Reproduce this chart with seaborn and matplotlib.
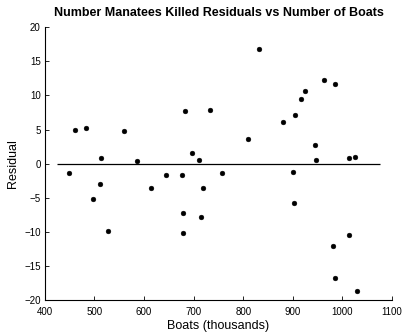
import pandas as pd
import seaborn as sns
import matplotlib.pyplot as plt

# boats (thousands) and residuals
boats = [460, 482, 514, 559, 585, 682, 733, 697, 711,
         832, 963, 984, 924, 917, 904, 881, 810, 945, 947, 1013, 1025,
         448, 512, 497, 527, 614, 645, 676, 679, 679, 719, 715, 757,
         900, 902, 1013, 980, 985, 1029]
residuals = [5.0, 5.2, 0.9, 4.8, 0.4, 7.7, 7.9, 1.5, 0.6,
             16.8, 12.2, 11.7, 10.6, 9.4, 7.2, 6.1, 3.6, 2.8, 0.6, 0.8, 1.0,
             -1.3, -3.0, -5.2, -9.9, -3.5, -1.7, -1.7, -7.3, -10.1, -3.5, -7.8, -1.3,
             -1.2, -5.7, -10.4, -12.1, -16.8, -18.7]

x_ticks = list(range(400, 1101, 100))
y_ticks = list(range(-20, 21, 5))

df = pd.DataFrame({"boats": boats, "residual": residuals})

sns.set_style("ticks", {"text.color": "black", "axes.labelcolor": "black",
                        "xtick.color": "black", "ytick.color": "black",
                        "axes.edgecolor": "black"})
plt.rcParams["font.family"] = ["Liberation Sans", "DejaVu Sans"]

fig = plt.figure(figsize=(4.08, 3.35), dpi=100)
ax = fig.add_axes([0.110, 0.104, 0.851, 0.815])

sns.scatterplot(data=df, x="boats", y="residual", ax=ax, color="black",
                s=12, edgecolor="black", linewidth=0.3)
ax.hlines(0, 425, 1075, color="black", linewidth=0.9)

ax.set_xlim(400, 1100)
ax.set_ylim(-20, 20)
ax.set_xticks(x_ticks)
ax.set_yticks(y_ticks)
ax.tick_params(direction="in", length=3, width=0.6, labelsize=7)
ax.tick_params(axis="x", pad=5)
ax.tick_params(axis="y", pad=3)
for side in ["top", "right"]:
    ax.spines[side].set_visible(False)
for side in ["left", "bottom"]:
    ax.spines[side].set_linewidth(0.8)

ax.set_xlabel("Boats (thousands)", fontsize=9, labelpad=2)
ax.set_ylabel("Residual", fontsize=9, labelpad=4)
ax.set_title("Number Manatees Killed Residuals vs Number of Boats",
             fontsize=9, fontweight="bold", pad=8)

plt.savefig("out.png", dpi=100)
